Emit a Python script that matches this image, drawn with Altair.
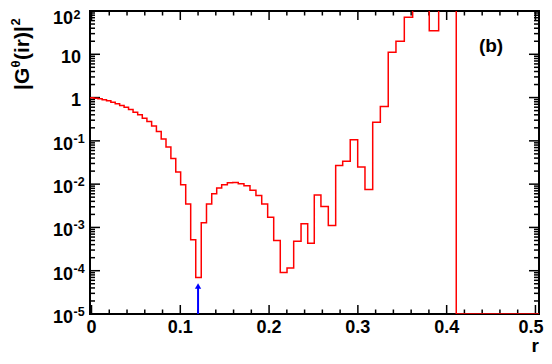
import altair as alt
import pandas as pd

# ---- data ----
# histogram bin edges (r) -- bins widen slowly with r
EDGES = [-0.0022, 0.0025, 0.0072, 0.0120, 0.0169, 0.0218, 0.0267, 0.0317, 0.0367, 0.0417,
         0.0468, 0.0520, 0.0572, 0.0624, 0.0677, 0.0731, 0.0785, 0.0839, 0.0894, 0.0949,
         0.1004, 0.1061, 0.1117, 0.1174, 0.1236, 0.1295, 0.1354, 0.1410, 0.1466, 0.1530,
         0.1590, 0.1653, 0.1717, 0.1785, 0.1852, 0.1917, 0.1984, 0.2052, 0.2126, 0.2202,
         0.2277, 0.2360, 0.2435, 0.2509, 0.2584, 0.2667, 0.2750, 0.2829, 0.2914, 0.2998,
         0.3080, 0.3167, 0.3253, 0.3342, 0.3429, 0.3523, 0.3617, 0.3710, 0.3804, 0.3910,
         0.4009, 0.4108, 0.4215, 0.4325, 0.4440, 0.4560, 0.4685, 0.4815, 0.4950, 0.5090]
# |G(ir)|^2 per bin (0 = empty bin, drawn on the axis floor)
VALUES = [0.99, 0.97, 0.94, 0.89, 0.84, 0.78, 0.72, 0.66, 0.60, 0.53,
          0.46, 0.40, 0.335, 0.28, 0.22, 0.165, 0.11, 0.072, 0.039, 0.019,
          0.0097, 0.0035, 0.00052, 0.00007, 0.00128, 0.0035, 0.0060, 0.0081, 0.0097, 0.0108,
          0.0109, 0.0102, 0.0092, 0.0072, 0.0055, 0.0035, 0.00173, 0.0005, 0.000091, 0.000115,
          0.00048, 0.00122, 0.00043, 0.0056, 0.00305, 0.00111, 0.027, 0.034, 0.106, 0.025,
          0.0075, 0.27, 0.62, 11.2, 20.0, 72.0, 150.0, 300.0, 35.0, 200.0,
          500.0, 0, 0, 0, 0, 0, 0, 0, 0]
X_LABELS = [0, 0.1, 0.2, 0.3, 0.4, 0.5]
X_LABEL_TEXT = ["0", "0.1", "0.2", "0.3", "0.4", "0.5"]
X_MINOR = [0.02, 0.04, 0.06, 0.08, 0.12, 0.14, 0.16, 0.18, 0.22, 0.24, 0.26, 0.28,
           0.32, 0.34, 0.36, 0.38, 0.42, 0.44, 0.46, 0.48]
Y_DECADES = [100, 10, 1, 0.1, 0.01, 0.001, 1e-4, 1e-5]
Y_BASE = ["10", "10", "1", "10", "10", "10", "10", "10"]
Y_EXP = ["2", "", "", "-1", "-2", "-3", "-4", "-5"]
Y_MINOR = [m * 10.0 ** k for k in range(-5, 2) for m in range(2, 10)]
ARROW_X = 0.12
ARROW_BASE = 1e-5
ARROW_TIP = 5.2e-5

# ---- layout / style ----
W, H = 449, 303
FONT = "Liberation Sans"
X_DOMAIN = [-0.0017, 0.504]
Y_DOMAIN = [1e-5, 100]
xsc = alt.Scale(domain=X_DOMAIN, nice=False, zero=False)
ysc = alt.Scale(type="log", domain=Y_DOMAIN, nice=False)
floor = Y_DOMAIN[0]

hist = pd.DataFrame({
    "r": EDGES,
    "g": [max(v, floor) for v in VALUES] + [max(VALUES[-1], floor)],
})

line = alt.Chart(hist).mark_line(
    interpolate="step-after", color="#ff0000", strokeWidth=1.5, clip=True
).encode(
    x=alt.X("r:Q", scale=xsc, axis=None),
    y=alt.Y("g:Q", scale=ysc, axis=None),
)


def xticks(vals, length):
    df = pd.DataFrame({"r": vals})
    bot = alt.Chart(df).mark_rule(color="black", strokeWidth=1.5).encode(
        x=alt.X("r:Q", scale=xsc, axis=None), y=alt.value(H), y2=alt.value(H - length))
    top = alt.Chart(df).mark_rule(color="black", strokeWidth=1.5).encode(
        x=alt.X("r:Q", scale=xsc, axis=None), y=alt.value(0), y2=alt.value(length))
    return [bot, top]


def yticks(vals, length):
    df = pd.DataFrame({"g": vals})
    left = alt.Chart(df).mark_rule(color="black", strokeWidth=1.5).encode(
        y=alt.Y("g:Q", scale=ysc, axis=None), x=alt.value(0), x2=alt.value(length))
    right = alt.Chart(df).mark_rule(color="black", strokeWidth=1.5).encode(
        y=alt.Y("g:Q", scale=ysc, axis=None), x=alt.value(W), x2=alt.value(W - length))
    return [left, right]


ticks = xticks(X_LABELS, 9) + xticks(X_MINOR, 4.5) + yticks(Y_DECADES, 10) + yticks(Y_MINOR, 5)

# x tick labels (the last one is kept inside the drawing's right edge)
xlab = pd.DataFrame({"r": X_LABELS, "t": X_LABEL_TEXT})
xlabels = alt.Chart(xlab).transform_filter("datum.r < 0.45").mark_text(
    align="center", baseline="alphabetic", font=FONT, fontSize=18, fontWeight="bold",
    color="black"
).encode(x=alt.X("r:Q", scale=xsc, axis=None), y=alt.value(H + 19), text="t:N")
xlabel_last = alt.Chart(xlab).transform_filter("datum.r > 0.45").mark_text(
    align="right", baseline="alphabetic", font=FONT, fontSize=18, fontWeight="bold",
    color="black"
).encode(x=alt.value(W + 4.5), y=alt.value(H + 19), text="t:N")

# y tick labels (10 with raised exponent, ROOT style)
ylab = pd.DataFrame({"g": Y_DECADES, "base": Y_BASE, "exp": Y_EXP})
lab_plain = alt.Chart(ylab).transform_filter("datum.exp == ''").mark_text(
    align="right", baseline="middle", font=FONT, fontSize=18, fontWeight="bold",
    color="black", dy=3.5
).encode(y=alt.Y("g:Q", scale=ysc, axis=None), x=alt.value(-9), text="base:N")
lab_base = alt.Chart(ylab).transform_filter("datum.exp != '' && datum.g < 50").mark_text(
    align="right", baseline="middle", font=FONT, fontSize=18, fontWeight="bold",
    color="black", dy=4
).encode(y=alt.Y("g:Q", scale=ysc, axis=None), x=alt.value(-17), text="base:N")
lab_exp = alt.Chart(ylab).transform_filter("datum.exp != '' && datum.g < 50").mark_text(
    align="left", baseline="middle", font=FONT, fontSize=12.5, fontWeight="bold",
    color="black", dy=-2
).encode(y=alt.Y("g:Q", scale=ysc, axis=None), x=alt.value(-16.5), text="exp:N")
# top label kept inside the drawing
lab_base_top = alt.Chart(ylab).transform_filter("datum.g > 50").mark_text(
    align="right", baseline="middle", font=FONT, fontSize=18, fontWeight="bold",
    color="black", dy=7.5
).encode(y=alt.Y("g:Q", scale=ysc, axis=None), x=alt.value(-17), text="base:N")
lab_exp_top = alt.Chart(ylab).transform_filter("datum.g > 50").mark_text(
    align="left", baseline="middle", font=FONT, fontSize=12.5, fontWeight="bold",
    color="black", dy=4
).encode(y=alt.Y("g:Q", scale=ysc, axis=None), x=alt.value(-16.5), text="exp:N")

one = pd.DataFrame({"k": [0]})


def txt(s, x, y, size, align="left", baseline="alphabetic", angle=0):
    kw = dict(text=s, align=align, baseline=baseline, font=FONT, fontSize=size,
              fontWeight="bold", color="black")
    if angle:
        kw["angle"] = angle
    return alt.Chart(one).mark_text(**kw).encode(x=alt.value(x), y=alt.value(y))


title_parts = [
    txt("|G", -61, 79, 21, angle=270),
    txt("\u03b8", -70, 56.5, 13, angle=270),
    txt("(ir)|", -61, 49, 21, angle=270),
    txt("2", -70, 14.5, 13, angle=270),
]
xtitle = txt("r", W, 341, 19, align="right")
tag = txt("(b)", 401, 35, 19, align="center", baseline="middle")

arrow_df = pd.DataFrame({"r": [ARROW_X], "g": [ARROW_BASE], "g2": [ARROW_TIP * 0.85]})
arrow_shaft = alt.Chart(arrow_df).mark_rule(color="#0000ff", strokeWidth=2).encode(
    x=alt.X("r:Q", scale=xsc, axis=None),
    y=alt.Y("g:Q", scale=ysc, axis=None), y2="g2:Q")
arrow_head = alt.Chart(arrow_df).mark_point(
    shape="triangle-up", filled=True, size=40, color="#0000ff", opacity=1
).encode(x=alt.X("r:Q", scale=xsc, axis=None), y=alt.Y("g2:Q", scale=ysc, axis=None))

chart = alt.layer(
    *ticks, line, arrow_shaft, arrow_head, xlabels, xlabel_last, lab_plain, lab_base,
    lab_exp, lab_base_top, lab_exp_top, *title_parts, xtitle, tag
).properties(
    width=W, height=H,
    autosize=alt.AutoSizeParams(type="none"),
    padding={"left": 82, "top": 3, "right": 5, "bottom": 42},
).configure_view(stroke="black", strokeWidth=2)

chart.save("out.html", embed_options={"renderer": "svg", "actions": False})
